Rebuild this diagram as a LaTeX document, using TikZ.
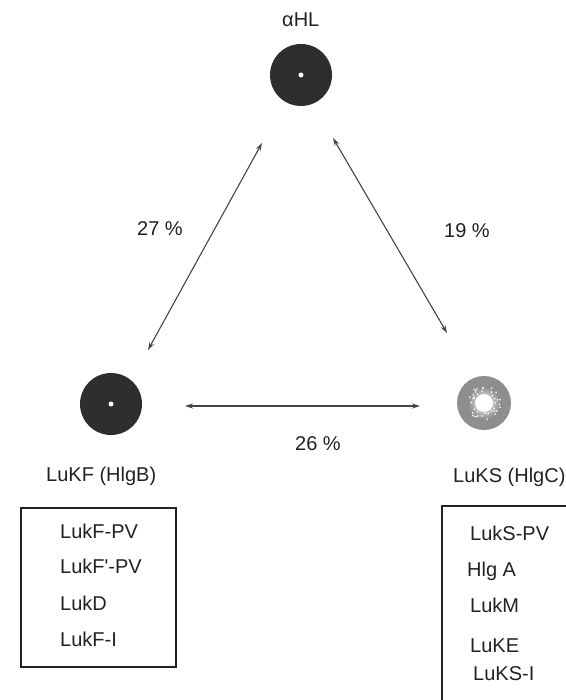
\documentclass[tikz,border=0pt]{standalone}
\usepackage{fontspec}
\setmainfont{Liberation Sans}
\usetikzlibrary{arrows.meta,calc}
\definecolor{ink}{HTML}{222222}
\definecolor{disk}{HTML}{2E2E2E}
\definecolor{graydisk}{HTML}{8E8E8E}
\definecolor{arrowc}{HTML}{444444}
\begin{document}
\begin{tikzpicture}[x=1pt,y=-1pt,
  font=\fontsize{20}{24}\selectfont,
  lbl/.style={inner sep=0pt, anchor=base west, text=ink},
  darkdisk/.style={circle, fill=disk, inner sep=0pt, minimum size=62pt},
  pinhole/.style={circle, fill=white, inner sep=0pt, minimum size=5pt},
  dbl/.style={draw=arrowc, line width=1.1pt, {Stealth[length=8pt,width=5pt]}-{Stealth[length=8pt,width=5pt]}},
  listbox/.style={draw=ink, line width=1.4pt}]
\useasboundingbox (0,0) rectangle (565,700);

% disks
\node[darkdisk] (ahl) at (301,75) {};
\node[pinhole] at (ahl.center) {};
\node[darkdisk] (lukf) at (111,404) {};
\node[pinhole] at (lukf.center) {};
\node[circle, fill=graydisk, inner sep=0pt, minimum size=54pt] (luks) at (484,403) {};
\shade[inner color=white, outer color=graydisk] (luks.center) circle (16pt);
\fill[white] (luks.center) circle (9pt);
\pgfmathsetseed{7}
\foreach \i in {1,...,40}{
  \pgfmathsetmacro{\ang}{rnd*360}
  \pgfmathsetmacro{\rad}{10+rnd*7}
  \fill[white] ($(luks.center)+(\ang:\rad pt)$) circle (0.9pt);
}

% titles
\node[lbl] (tahl) at (282,27) {αHL};
\node[lbl] (tlukf) at (46,481) {LuKF (HlgB)};
\node[lbl] (tluks) at (453,482) {LuKS (HlgC)};

% arrows
\coordinate (a1) at (148,350);
\coordinate (a2) at (262,143);
\coordinate (b1) at (333,138);
\coordinate (b2) at (447,333);
\coordinate (c1) at (185,406);
\coordinate (c2) at (420,406);
\draw[dbl] (a1) -- (a2);
\draw[dbl] (b1) -- (b2);
\draw[dbl] (c1) -- (c2);
\node[lbl] (p27) at (137,236) {27 \%};
\node[lbl] (p19) at (444,237) {19 \%};
\node[lbl] (p26) at (295,450) {26 \%};

% left box
\draw[listbox] (21,508) rectangle (176,667);
\node[lbl] at (60,538) {LukF-PV};
\node[lbl] at (60,573) {LukF\textquotesingle-PV};
\node[lbl] at (60,610) {LukD};
\node[lbl] at (60,646) {LukF-I};

% right box
\draw[listbox] (442,702) -- (442,506) -- (567,506);
\node[lbl] at (470,540) {LukS-PV};
\node[lbl] at (467,576) {Hlg A};
\node[lbl] at (470,612) {LukM};
\node[lbl] at (470,652) {LuKE};
\node[lbl] at (473,680) {LuKS-I};
\end{tikzpicture}
\end{document}
